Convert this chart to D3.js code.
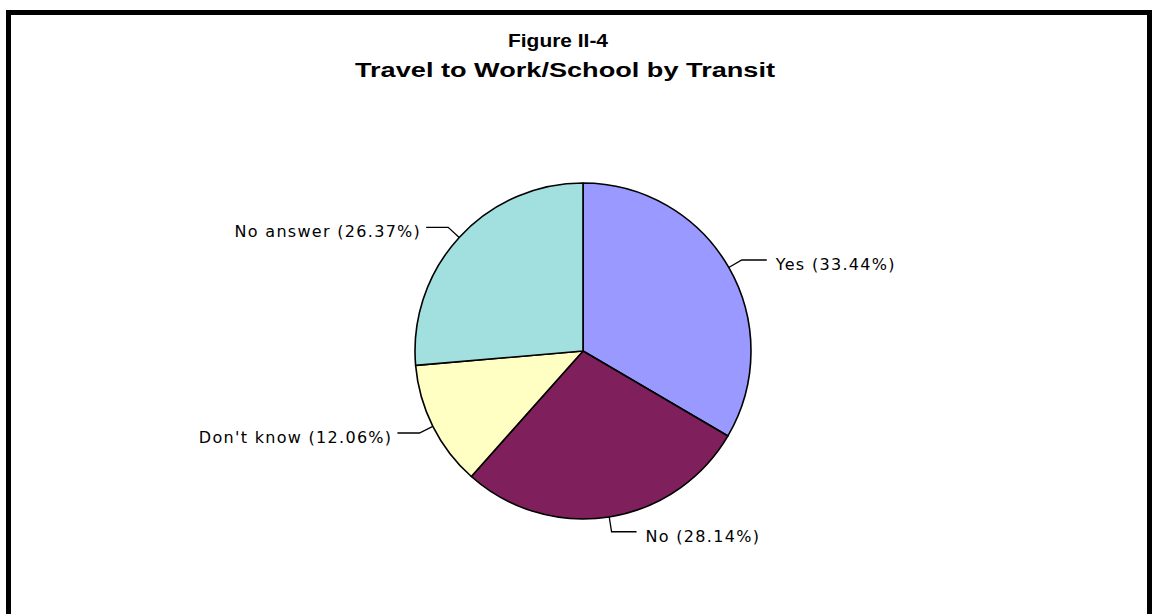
<!DOCTYPE html>
<html>
<head>
<meta charset="utf-8">
<script src="https://cdn.jsdelivr.net/npm/d3@7"></script>
<style>
  html, body { margin: 0; padding: 0; background: #ffffff; }
  svg { display: block; }
</style>
</head>
<body>
<svg id="chart" width="1152" height="614"></svg>
<script>
// Survey answers, share of respondents (%)
const categories = ["Yes", "No", "Don't know", "No answer"];
const shares = [33.44, 28.14, 12.06, 26.37];
const sliceColors = ["#9999FF", "#7F1F5B", "#FFFFC4", "#A2E0E0"];
const figureLabel = "Figure II-4";
const chartTitle = "Travel to Work/School by Transit";

const svg = d3.select("#chart");
const W = 1152, H = 614;

svg.append("rect").attr("width", W).attr("height", H).attr("fill", "#ffffff");

// Heavy frame round the figure (open at the bottom edge)
const frame = svg.append("g").attr("fill", "#000");
frame.append("rect").attr("x", 6).attr("y", 10).attr("width", W - 6).attr("height", 5);
frame.append("rect").attr("x", 6).attr("y", 10).attr("width", 5).attr("height", H - 10);
frame.append("rect").attr("x", 1147).attr("y", 10).attr("width", 5).attr("height", H - 10);

// Titles
svg.append("text")
  .attr("x", 508).attr("y", 47)
  .attr("textLength", 100).attr("lengthAdjust", "spacingAndGlyphs")
  .style("font-family", "'Liberation Sans', Arial, sans-serif")
  .style("font-weight", "bold").style("font-size", "18px")
  .text(figureLabel);

svg.append("text")
  .attr("x", 355).attr("y", 77)
  .attr("textLength", 420).attr("lengthAdjust", "spacingAndGlyphs")
  .style("font-family", "'Liberation Sans', Arial, sans-serif")
  .style("font-weight", "bold").style("font-size", "20px")
  .text(chartTitle);

// Pie
const cx = 583, cy = 351, r = 168;
const data = categories.map((c, i) => ({ cat: c, value: shares[i], color: sliceColors[i] }));

const pie = d3.pie().value(d => d.value).sort(null)
  .startAngle(0).endAngle(2 * Math.PI);
const arcs = pie(data);
const arc = d3.arc().innerRadius(0).outerRadius(r);

const g = svg.append("g").attr("transform", `translate(${cx},${cy})`);

g.selectAll("path.slice")
  .data(arcs)
  .enter().append("path")
  .attr("class", "slice")
  .attr("d", arc)
  .attr("fill", d => d.data.color)
  .attr("stroke", "#000")
  .attr("stroke-width", 1.6)
  .attr("stroke-linejoin", "round");

// Leader lines and labels
const labels = g.append("g");
arcs.forEach(a => {
  const mid = (a.startAngle + a.endAngle) / 2;
  const sx = Math.sin(mid), sy = -Math.cos(mid);
  const edge = [r * sx, r * sy];
  const elbow = [(r + 15) * sx, (r + 15) * sy];
  const right = sx >= 0;
  const end = [elbow[0] + (right ? 25 : -22), elbow[1]];

  labels.append("polyline")
    .attr("points", [edge, elbow, end].map(p => p.join(",")).join(" "))
    .attr("fill", "none")
    .attr("stroke", "#000")
    .attr("stroke-width", 1.3);

  labels.append("text")
    .attr("x", end[0] + (right ? 9 : -5))
    .attr("y", end[1] + 10)
    .attr("text-anchor", right ? "start" : "end")
    .style("font-family", "'DejaVu Sans', Verdana, sans-serif")
    .style("font-size", "16px")
    .style("letter-spacing", "1.3px")
    .attr("fill", "#000")
    .text(`${a.data.cat} (${a.data.value.toFixed(2)}%)`);
});
</script>
</body>
</html>
